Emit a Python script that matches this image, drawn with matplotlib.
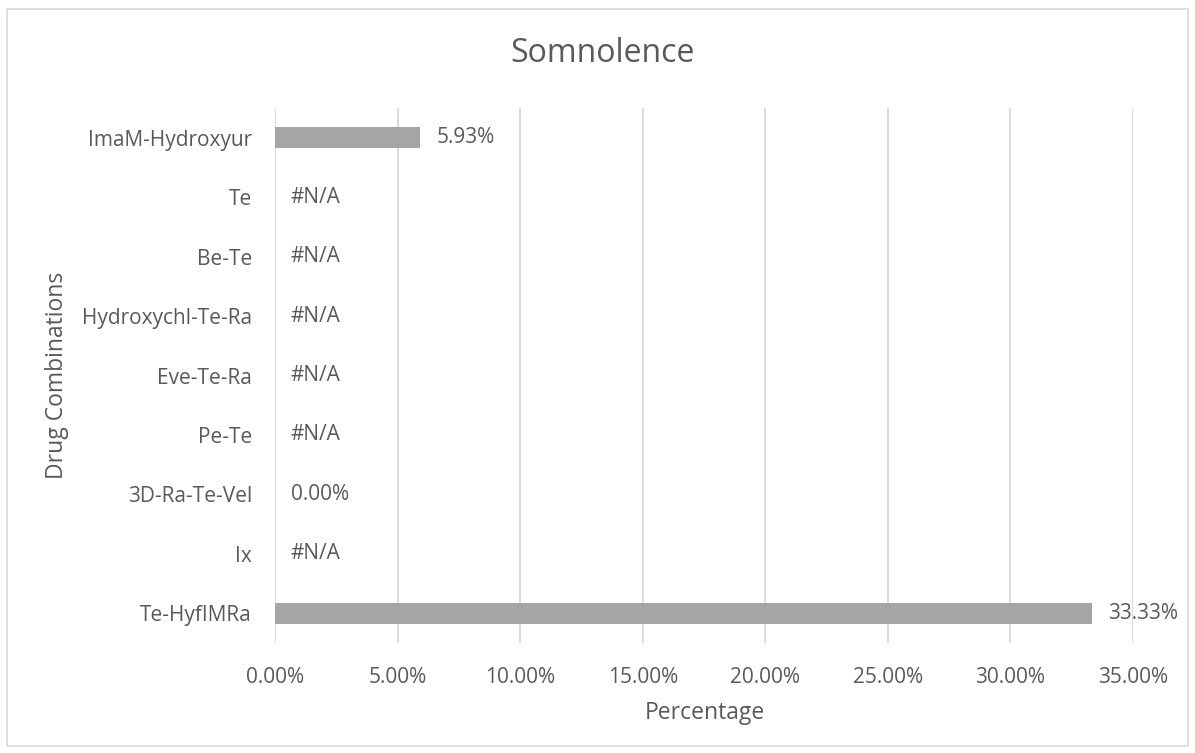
import numpy as np
import matplotlib
matplotlib.use("Agg")
import matplotlib.pyplot as plt
from matplotlib.patches import Rectangle

plt.rcParams['font.family'] = ['Open Sans', 'DejaVu Sans']

# Drug combinations, listed top to bottom
categories = ["ImaM-Hydroxyur", "Te", "Be-Te", "Hydroxychl-Te-Ra", "Eve-Te-Ra",
              "Pe-Te", "3D-Ra-Te-Vel", "Ix", "Te-HyfIMRa"]
# Somnolence rate (fraction); None = not available
values = [0.0593, None, None, None, None, None, 0.0, None, 0.3333]
x_ticks = [0.0, 0.05, 0.10, 0.15, 0.20, 0.25, 0.30, 0.35]

text_color = "#595959"
grid_color = "#D9D9D9"
bar_color = "#A5A5A5"

W, H = 1195, 753
fig = plt.figure(figsize=(W / 100, H / 100), dpi=100)
fig.patches.append(Rectangle((7 / W, 1 - 746 / H), 1181 / W, 737 / H,
                             transform=fig.transFigure, fill=False,
                             edgecolor=grid_color, linewidth=1.2))

ax = fig.add_axes([275 / W, 1 - 643 / H, (1133 - 275) / W, (643 - 108) / H])

n = len(categories)
ypos = np.arange(n)[::-1]
bar_vals = [v if v is not None else 0.0 for v in values]
ax.barh(ypos, bar_vals, height=0.35, color=bar_color, zorder=3)

for y, v in zip(ypos, values):
    if v is None:
        label, x = "#N/A", 0.0
    else:
        label, x = f"{v * 100:.2f}%", v
    ax.annotate(label, (x, y), xytext=(11.5, 0), textcoords="offset points",
                va="center", ha="left", fontsize=15, color=text_color, zorder=4)

ax.set_xlim(0, 0.35)
ax.set_ylim(-0.5, n - 0.5)
ax.set_xticks(x_ticks)
ax.set_xticklabels([f"{t * 100:.2f}%" for t in x_ticks])
ax.set_yticks(ypos)
ax.set_yticklabels(categories)
ax.tick_params(axis="x", length=0, pad=17, labelsize=15, labelcolor=text_color)
ax.tick_params(axis="y", length=0, pad=16.5, labelsize=15, labelcolor=text_color)
ax.grid(axis="x", color=grid_color, linewidth=1.3, zorder=0)
for s in ax.spines.values():
    s.set_visible(False)

fig.text(705 / W, 1 - 713 / H, "Percentage", ha="center", va="center",
         fontsize=16.5, color=text_color)
fig.text(57 / W, 1 - 375 / H, "Drug Combinations", rotation=90, ha="center",
         va="center", fontsize=16.5, color=text_color)
fig.text(602 / W, 1 - 54 / H, "Somnolence", ha="center", va="center",
         fontsize=23, color=text_color)

fig.savefig("out.png", dpi=100)
